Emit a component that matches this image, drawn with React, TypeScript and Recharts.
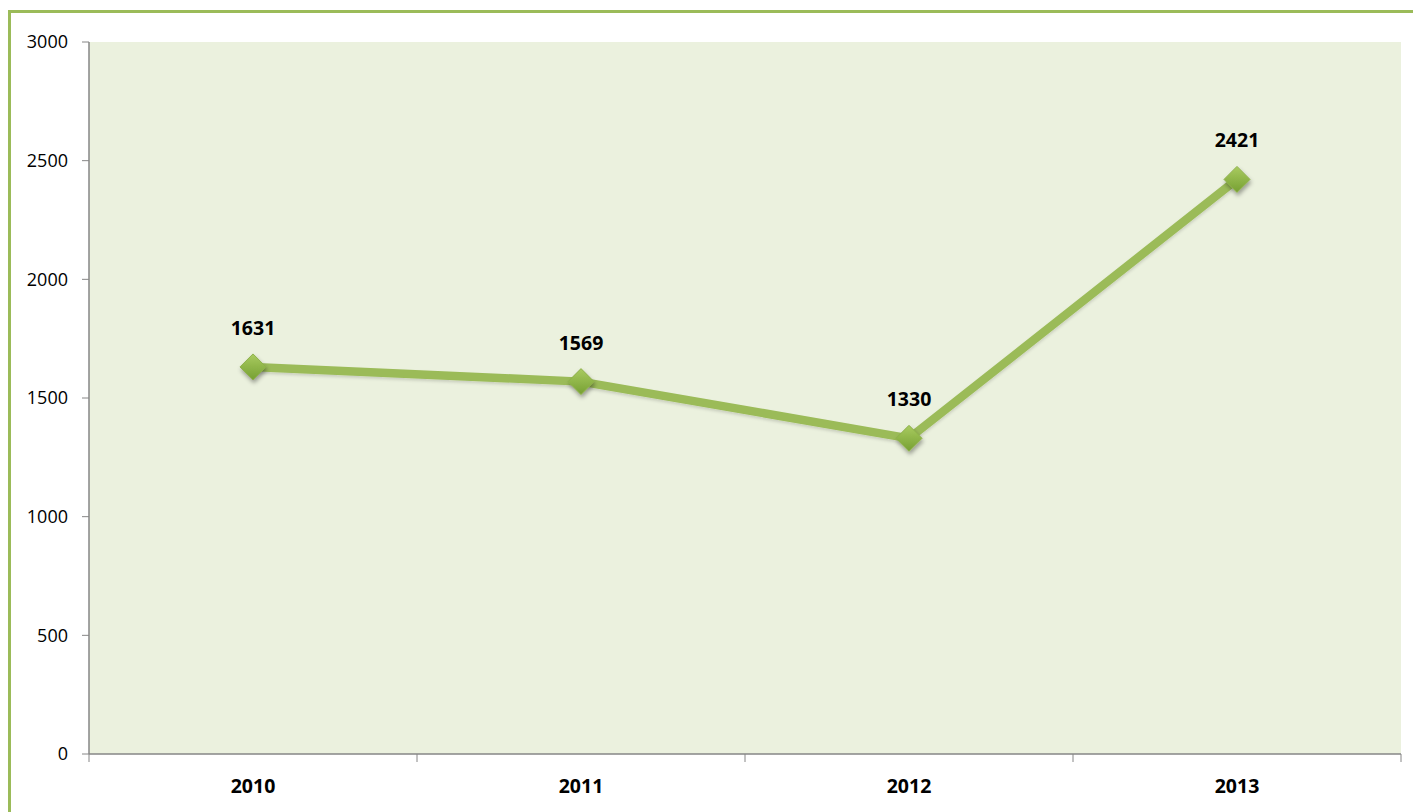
import { LineChart, Line, XAxis, YAxis, LabelList } from "recharts";

const years = ["2010", "2011", "2012", "2013"];
const values = [1631, 1569, 1330, 2421];
const yTicks = [0, 500, 1000, 1500, 2000, 2500, 3000];

const data = years.map((year, i) => ({ year, value: values[i] }));

const HALF_BAND = 164;

const Diamond = (props: any) => {
  const { cx, cy } = props;
  if (cx == null || cy == null) return null;
  const r = 13;
  return (
    <path
      d={`M${cx},${cy - r} L${cx + r},${cy} L${cx},${cy + r} L${cx - r},${cy} Z`}
      fill="url(#diamondFill)"
      stroke="#8DB04A"
      strokeWidth={1}
      filter="url(#dotShadow)"
    />
  );
};

const YearTick = (props: any) => {
  const { x, y, payload, index } = props;
  const last = index === years.length - 1;
  return (
    <g>
      <line x1={x - HALF_BAND} y1={y - 8} x2={x - HALF_BAND} y2={y} stroke="#868686" />
      {last && <line x1={x + HALF_BAND} y1={y - 8} x2={x + HALF_BAND} y2={y} stroke="#868686" />}
      <text x={x} y={y + 31} textAnchor="middle" fontSize={19.5} fontWeight="bold" fill="#000">
        {payload.value}
      </text>
    </g>
  );
};

const ValueLabel = (props: any) => {
  const { x, y, value } = props;
  return (
    <text x={x} y={y - 32} textAnchor="middle" fontSize={19.5} fontWeight="bold" fill="#000">
      {value}
    </text>
  );
};

export default function App() {
  return (
    <div
      style={{
        position: "fixed",
        left: 0,
        top: 0,
        width: 1413,
        height: 812,
        overflow: "hidden",
        background: "#fff",
        fontFamily: "'Open Sans', sans-serif",
      }}
    >
      <LineChart width={1413} height={812} data={data} margin={{ top: 42, right: 12, bottom: 18, left: 9 }}>
        <defs>
          <linearGradient id="diamondFill" x1="0" y1="0" x2="0" y2="1">
            <stop offset="0%" stopColor="#A9CB60" />
            <stop offset="100%" stopColor="#76A032" />
          </linearGradient>
          <filter id="dotShadow" x="-50%" y="-50%" width="200%" height="200%">
            <feDropShadow dx="1" dy="3" stdDeviation="2" floodColor="#000" floodOpacity="0.35" />
          </filter>
          <filter id="lineShadow" x="-10%" y="-10%" width="120%" height="120%">
            <feDropShadow dx="0" dy="2" stdDeviation="1.5" floodColor="#000" floodOpacity="0.15" />
          </filter>
        </defs>
        {/* outer frame: only top and left edges fall inside the picture */}
        <path d="M9.5,812 L9.5,11.5 L1413,11.5" fill="none" stroke="#9BBB59" strokeWidth={3} />
        <rect x={89} y={42} width={1312} height={712} fill="#EBF1DE" />
        <XAxis
          dataKey="year"
          height={40}
          padding={{ left: HALF_BAND, right: HALF_BAND }}
          axisLine={{ stroke: "#868686", strokeWidth: 1.5 }}
          tickLine={false}
          tick={<YearTick />}
          interval={0}
        />
        <YAxis
          domain={[0, 3000]}
          ticks={yTicks}
          width={80}
          tickSize={7}
          tickMargin={14}
          axisLine={{ stroke: "#868686", strokeWidth: 1.5 }}
          tickLine={{ stroke: "#868686" }}
          tick={{ fill: "#000", fontSize: 18 }}
        />
        <Line
          type="linear"
          dataKey="value"
          stroke="#9BBB59"
          strokeWidth={8.5}
          dot={<Diamond />}
          activeDot={false}
          filter="url(#lineShadow)"
          isAnimationActive={false}
        >
          <LabelList dataKey="value" content={<ValueLabel />} />
        </Line>
      </LineChart>
    </div>
  );
}
